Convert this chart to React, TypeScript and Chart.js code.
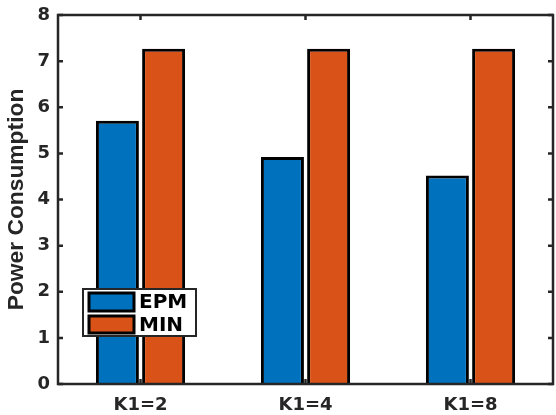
import React, { useEffect, useRef } from "react";
import { Chart, registerables } from "chart.js";

Chart.register(...registerables);

const categories = ["K1=2", "K1=4", "K1=8"];
const epmValues = [5.71, 4.92, 4.52];
const minValues = [7.27, 7.27, 7.27];
const seriesNames = ["EPM", "MIN"];
const yTicks = [0, 1, 2, 3, 4, 5, 6, 7, 8];

const BLUE = "#0072BD";
const ORANGE = "#D95319";
const AXIS = "#262626";
const FONT = "'DejaVu Sans', sans-serif";
const TITLE_FONT = "Arial, 'Liberation Sans', sans-serif";

const framePlugin = {
  id: "frame",
  afterDraw(chart: any) {
    const ctx = chart.ctx;
    const { left, right, top, bottom } = chart.chartArea;
    const x = chart.scales.x;
    const y = chart.scales.y;
    ctx.save();
    ctx.strokeStyle = AXIS;
    ctx.lineWidth = 2.5;
    ctx.strokeRect(left, top, right - left, bottom - top);
    const tl = 5;
    ctx.beginPath();
    for (let i = 0; i < categories.length; i++) {
      const px = x.getPixelForValue(i);
      ctx.moveTo(px, bottom);
      ctx.lineTo(px, bottom - tl);
      ctx.moveTo(px, top);
      ctx.lineTo(px, top + tl);
    }
    for (const v of yTicks) {
      const py = y.getPixelForValue(v);
      ctx.moveTo(left, py);
      ctx.lineTo(left + tl, py);
      ctx.moveTo(right, py);
      ctx.lineTo(right - tl, py);
    }
    ctx.stroke();

    // legend
    const lx = 83, ly = 289, lw = 113, lh = 47;
    ctx.fillStyle = "#ffffff";
    ctx.fillRect(lx, ly, lw, lh);
    ctx.lineWidth = 2;
    ctx.strokeStyle = AXIS;
    ctx.strokeRect(lx, ly, lw, lh);
    const colors = [BLUE, ORANGE];
    const rows = [[292, 20], [315, 19]];
    ctx.font = `bold 20px ${FONT}`;
    ctx.textBaseline = "middle";
    ctx.textAlign = "left";
    for (let i = 0; i < 2; i++) {
      const [ry, rh] = rows[i];
      ctx.fillStyle = colors[i];
      ctx.fillRect(89, ry + 1, 45, rh - 2);
      ctx.strokeStyle = "#000";
      ctx.lineWidth = 3;
      ctx.strokeRect(89, ry + 1, 45, rh - 2);
      ctx.fillStyle = "#000";
      ctx.fillText(seriesNames[i], 139, ry + rh / 2 + 1);
    }
    ctx.restore();
  },
};

export default function App() {
  const ref = useRef<HTMLCanvasElement>(null);
  useEffect(() => {
    document.body.style.margin = "0";
    const chart = new Chart(ref.current!, {
      type: "bar",
      data: {
        labels: categories,
        datasets: [
          {
            label: seriesNames[0],
            data: epmValues,
            backgroundColor: BLUE,
            borderColor: "#000",
            borderWidth: 3,
            categoryPercentage: 0.56,
            barPercentage: 0.93,
          },
          {
            label: seriesNames[1],
            data: minValues,
            backgroundColor: ORANGE,
            borderColor: "#000",
            borderWidth: 3,
            categoryPercentage: 0.56,
            barPercentage: 0.93,
          },
        ],
      },
      options: {
        animation: false,
        responsive: false,
        maintainAspectRatio: false,
        layout: { padding: { top: 15, right: 3, left: 0, bottom: 0 } },
        plugins: { legend: { display: false }, tooltip: { enabled: false } },
        scales: {
          x: {
            grid: { display: false, drawTicks: false, tickLength: 0 },
            border: { display: false },
            ticks: {
              color: AXIS,
              font: { family: FONT, size: 18, weight: "bold" },
              padding: 11,
              maxRotation: 0,
            },
            afterFit: (s: any) => {
              s.height = 31;
              s.paddingLeft = 0;
              s.paddingRight = 0;
            },
          },
          y: {
            min: 0,
            max: 8,
            grid: { display: false, drawTicks: false, tickLength: 0 },
            border: { display: false },
            ticks: {
              stepSize: 1,
              color: AXIS,
              font: { family: FONT, size: 18, weight: "bold" },
              padding: 8,
            },
            title: {
              display: true,
              text: "Power Consumption",
              color: AXIS,
              font: { family: TITLE_FONT, size: 22.8, weight: "bold" },
              padding: { top: 3, bottom: 0 },
            },
            afterFit: (s: any) => {
              s.width = 58;
              s.paddingTop = 0;
              s.paddingBottom = 0;
            },
          },
        },
      },
      plugins: [framePlugin],
    });
    return () => chart.destroy();
  }, []);
  return (
    <div style={{ width: 556, height: 415, background: "#fff" }}>
      <canvas ref={ref} width={556} height={415} />
    </div>
  );
}
